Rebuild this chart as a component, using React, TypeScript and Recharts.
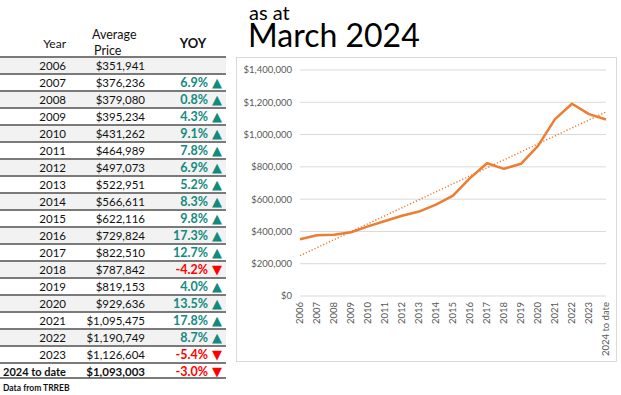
import React from "react";
import { LineChart, Line, XAxis, YAxis, CartesianGrid } from "recharts";

const years = [
  "2006", "2007", "2008", "2009", "2010", "2011", "2012", "2013", "2014", "2015",
  "2016", "2017", "2018", "2019", "2020", "2021", "2022", "2023", "2024 to date",
];

const prices = [
  351941, 376236, 379080, 395234, 431262, 464989, 497073, 522951, 566611, 622116,
  729824, 822510, 787842, 819153, 929636, 1095475, 1190749, 1126604, 1093003,
];

const yoy: (number | null)[] = [
  null, 6.9, 0.8, 4.3, 9.1, 7.8, 6.9, 5.2, 8.3, 9.8,
  17.3, 12.7, -4.2, 4.0, 13.5, 17.8, 8.7, -5.4, -3.0,
];

// dotted linear trendline, end points
const trendStart = 250000;
const trendEnd = 1140000;

const yTicks = [0, 200000, 400000, 600000, 800000, 1000000, 1200000, 1400000];

const data = years.map((year, i) => ({
  year,
  price: prices[i],
  trend: i === 0 ? trendStart : i === years.length - 1 ? trendEnd : null,
}));

const FONT = "Lato, 'Open Sans', sans-serif";
const money = (v: number) => "$" + v.toLocaleString("en-US");

const XTick = (props: any) => {
  const { x, y, payload } = props;
  return (
    <text
      x={x}
      y={y}
      transform={`rotate(-90 ${x} ${y})`}
      textAnchor="end"
      dy="0.35em"
      fontSize={9.5}
      fill="#595959"
      fontFamily={FONT}
    >
      {payload.value}
    </text>
  );
};

const ROW_TOP = 56;
const ROW_H = 17;

function Table() {
  return (
    <div style={{ position: "absolute", left: 0, top: 0, width: 226, fontFamily: FONT, color: "#111" }}>
      <div style={{ position: "absolute", left: 0, width: 66, top: 36, textAlign: "right", fontSize: 12 }}>Year</div>
      <div style={{ position: "absolute", left: 92, top: 27, fontSize: 12.5, lineHeight: "16px" }}>
        Average
        <br />
        <span style={{ marginLeft: 2 }}>Price</span>
      </div>
      <div style={{ position: "absolute", left: 170, width: 46, top: 35, textAlign: "center", fontSize: 13, fontWeight: 700 }}>YOY</div>
      {years.map((year, i) => {
        const last = i === years.length - 1;
        const v = yoy[i];
        const up = v !== null && v >= 0;
        return (
          <div
            key={year}
            style={{
              position: "absolute",
              left: 0,
              top: ROW_TOP + i * ROW_H,
              width: 226,
              height: ROW_H,
              boxSizing: "border-box",
              borderTop: "2px solid #7a7a7a",
              borderBottom: last ? "2px solid #7a7a7a" : undefined,
              background: i % 2 === 0 && !last ? "#f2f2f2" : "#fff",
              fontSize: 11.5,
              fontWeight: last ? 700 : 400,
              lineHeight: "15px",
            }}
          >
            <span style={{ position: "absolute", right: 226 - 66, whiteSpace: "nowrap", fontSize: last ? 11 : 11.5 }}>{year}</span>
            <span style={{ position: "absolute", right: 226 - 145 }}>{money(prices[i])}</span>
            {v !== null && (
              <span
                style={{
                  position: "absolute",
                  right: 4,
                  fontWeight: 700,
                  fontSize: 12.5,
                  color: up ? "#138a7e" : "#ff0000",
                  whiteSpace: "nowrap",
                }}
              >
                {v.toFixed(1)}%
                <span style={{ fontFamily: "'DejaVu Sans'", fontSize: 13, marginLeft: 4 }}>{up ? "▲" : "▼"}</span>
              </span>
            )}
          </div>
        );
      })}
      <div style={{ position: "absolute", left: 3, top: 383, fontSize: 8.5, fontWeight: 700 }}>Data from TRREB</div>
    </div>
  );
}

export default function App() {
  return (
    <div style={{ position: "absolute", left: 0, top: 0, width: 621, height: 395, background: "#fff", overflow: "hidden" }}>
      <Table />
      <div style={{ position: "absolute", left: 249, top: 2, fontFamily: FONT, fontSize: 20, lineHeight: "20px", color: "#000" }}>as at</div>
      <div style={{ position: "absolute", left: 248, top: 19, fontFamily: FONT, fontSize: 32, lineHeight: "32px", color: "#000" }}>March 2024</div>
      <div
        style={{
          position: "absolute",
          left: 236,
          top: 57,
          width: 381,
          height: 305,
          boxSizing: "border-box",
          border: "1px solid #d9d9d9",
        }}
      >
        <LineChart width={379} height={303} data={data} margin={{ top: 12, right: 10, left: 8, bottom: 5 }}>
          <CartesianGrid vertical={false} stroke="#d9d9d9" />
          <XAxis
            dataKey="year"
            interval={0}
            axisLine={false}
            tickLine={false}
            height={60}
            tick={<XTick />}
            tickMargin={0}
          />
          <YAxis
            domain={[0, 1400000]}
            ticks={yTicks}
            tickFormatter={money}
            axisLine={false}
            tickLine={false}
            width={55}
            tick={{ fontSize: 9.5, fill: "#595959", fontFamily: FONT }}
          />
          <Line
            dataKey="trend"
            connectNulls
            stroke="#ed7d31"
            strokeWidth={1.5}
            strokeDasharray="1.2 2"
            dot={false}
            isAnimationActive={false}
          />
          <Line
            dataKey="price"
            stroke="#ed7d31"
            strokeWidth={2.5}
            dot={false}
            strokeLinejoin="round"
            isAnimationActive={false}
          />
        </LineChart>
      </div>
    </div>
  );
}
